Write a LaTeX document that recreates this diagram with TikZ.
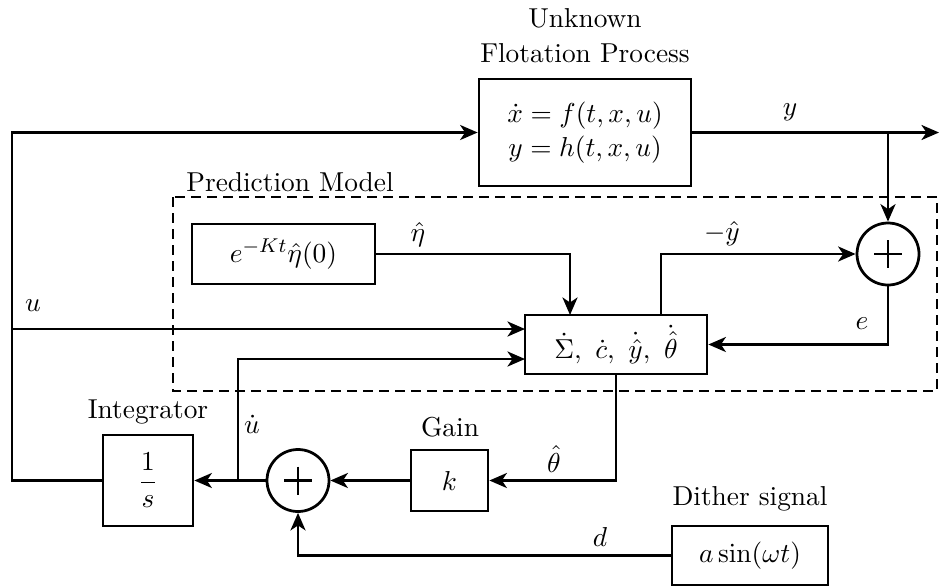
\documentclass[tikz,border=0pt,11pt]{standalone}
\usetikzlibrary{arrows.meta}
\begin{document}
\begin{tikzpicture}[x=0.4pt,y=-0.4pt,
  line width=1.1pt,
  blk/.style={draw,line width=1.1pt,inner sep=0pt,minimum width=#1},
  sumc/.style={draw,circle,line width=1.1pt,minimum size=24.8pt,inner sep=0pt},
  arr/.style={-{Stealth[length=7pt,width=6pt,inset=2pt]}},
  lbl/.style={inner sep=0pt}]
\useasboundingbox (0,0) rectangle (939,587);
% blocks
\node[blk=84.8pt,minimum height=42.8pt] (proc) at (585,132.5) {$\begin{array}{c}\dot x = f(t,x,u)\\ y = h(t,x,u)\end{array}$};
\node[blk=72.8pt,minimum height=23.6pt] (main) at (616,344.5) {$\dot\Sigma,\ \dot c,\ \dot{\hat y},\ \dot{\hat\theta}$};
\node[blk=73.2pt,minimum height=24pt] (eta) at (283.5,254) {$e^{-Kt}\hat\eta(0)$};
\node[blk=36pt,minimum height=36.4pt] (integ) at (148,480.5) {$\displaystyle\frac{1}{s}$};
\node[blk=30.8pt,minimum height=24.4pt] (gain) at (449.5,480.5) {$k$};
\node[blk=62.4pt,minimum height=23.6pt] (dith) at (750,555.5) {$a\sin(\omega t)$};
\node[sumc] (s1) at (888,254) {};
\node[sumc] (s2) at (298,480.5) {};
\draw (874,254) -- (902,254) (888,240) -- (888,268);
\draw (284,480.5) -- (312,480.5) (298,466.5) -- (298,494.5);
% dashed prediction model
\draw[dash pattern=on 4pt off 2.4pt] (173,197) rectangle (937,391);
\node[lbl,anchor=base west] (pm) at (185,191) {Prediction Model};
% labels
\node[lbl] (unk) at (585,18) {Unknown};
\node[lbl] (flot) at (585,53) {Flotation Process};
\node[lbl] (intl) at (148,412) {Integrator};
\node[lbl] (gl) at (450,427) {Gain};
\node[lbl] (dl) at (750,499) {Dither signal};
% coordinates
\coordinate (yj) at (888,132.5);
\coordinate (yend) at (939,132.5);
\coordinate (ltop) at (12,132.5);
\coordinate (lbot) at (12,480.5);
\coordinate (ul) at (12,329);
\coordinate (uin) at (525,329);
\coordinate (etain) at (570,315);
\coordinate (yh) at (661,315);
\coordinate (ud) at (238,480.5);
\coordinate (udin) at (525,359);
% connectors
\draw[arr] (proc.east) -- (yend);
\draw[arr] (yj) -- (s1.north);
\draw[arr] (integ.west) -- (lbot) -- (ltop) -- (proc.west);
\draw[arr] (ul) -- (uin);
\draw[arr] (eta.east) -| (etain);
\draw[arr] (yh) |- (s1.west);
\draw[arr] (s1.south) |- (main.east);
\draw[arr] (main.south) |- (gain.east);
\draw[arr] (gain.west) -- (s2.east);
\draw[arr] (s2.west) -- (integ.east);
\draw[arr] (ud) |- (udin);
\draw[arr] (dith.west) -| (s2.south);
% signal labels
\node[lbl] (ly) at (790,112) {$y$};
\node[lbl] (lyh) at (722,234) {$-\hat y$};
\node[lbl] (le) at (862,324) {$e$};
\node[lbl] (leta) at (418,235) {$\hat\eta$};
\node[lbl] (lu) at (33,306) {$u$};
\node[lbl] (lud) at (252,424) {$\dot u$};
\node[lbl] (lth) at (554,459) {$\hat\theta$};
\node[lbl] (ld) at (600,537) {$d$};
\end{tikzpicture}
\end{document}
